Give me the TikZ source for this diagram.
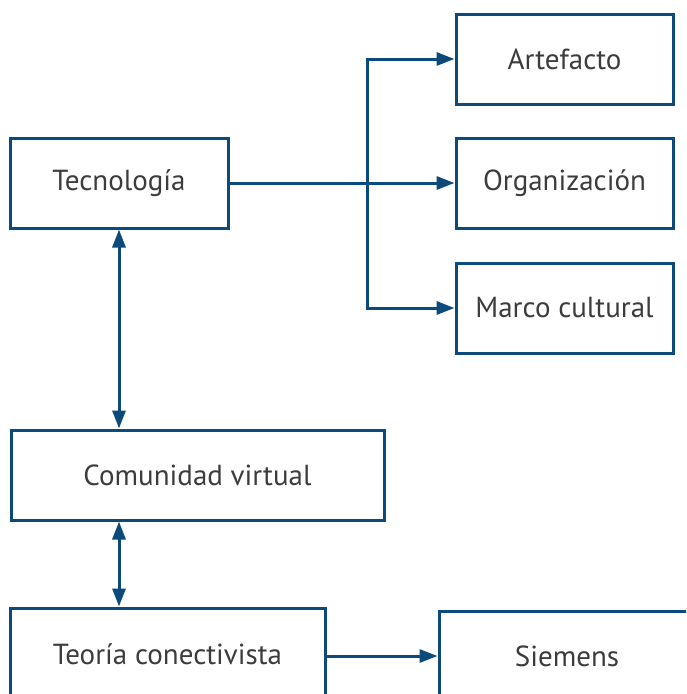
\documentclass[tikz,border=0pt]{standalone}
\usepackage{fontspec}
\setmainfont{PT Sans}
\usetikzlibrary{arrows.meta}
\definecolor{azul}{HTML}{0B4A7A}
\definecolor{texto}{HTML}{3C3C3C}

\begin{document}
\begin{tikzpicture}[x=1pt,y=-1pt,
	caja/.style={draw=azul,line width=3pt,inner sep=0pt,minimum height=90pt,
		text=texto,font=\fontsize{29}{33}\selectfont},
	flecha/.style={draw=azul,line width=3pt,-{Triangle[length=18pt,width=13pt]}},
	doble/.style={draw=azul,line width=3pt,{Triangle[length=18pt,width=13pt]}-{Triangle[length=18pt,width=13pt]}}]
	% the page is exactly the size of the reference
	\useasboundingbox (0,0) rectangle (686,694);
	\clip (0,0) rectangle (686,694);
	% boxes
	\node[caja,minimum width=218pt] (tec) at (119,183) {Tecnología};
	\node[caja,minimum width=217pt] (art) at (564.5,59) {Artefacto};
	\node[caja,minimum width=217pt] (org) at (564.5,183) {Organización};
	\node[caja,minimum width=217pt] (mar) at (564.5,308) {Marco cultural};
	\node[caja,minimum width=373pt] (com) at (197.5,475) {Comunidad virtual};
	\node[caja,minimum width=315pt,minimum height=92pt] (teo) at (167.5,654) {Teoría conectivista};
	\node[caja,minimum width=256pt] (sie) at (567,656) {Siemens};
	% branch towards the three aspects
	\coordinate (rama) at (367,183);
	\draw[flecha] (tec.east) -- (org.west);
	\draw[flecha] (rama) |- (art.west);
	\draw[flecha] (rama) |- (mar.west);
	% vertical links
	\draw[doble] (tec.south) -- (tec.south |- com.north);
	\draw[doble] (com.south -| tec.south) -- (teo.north -| tec.south);
	\draw[flecha] (teo.east |- sie.west) -- (sie.west);
\end{tikzpicture}
\end{document}
